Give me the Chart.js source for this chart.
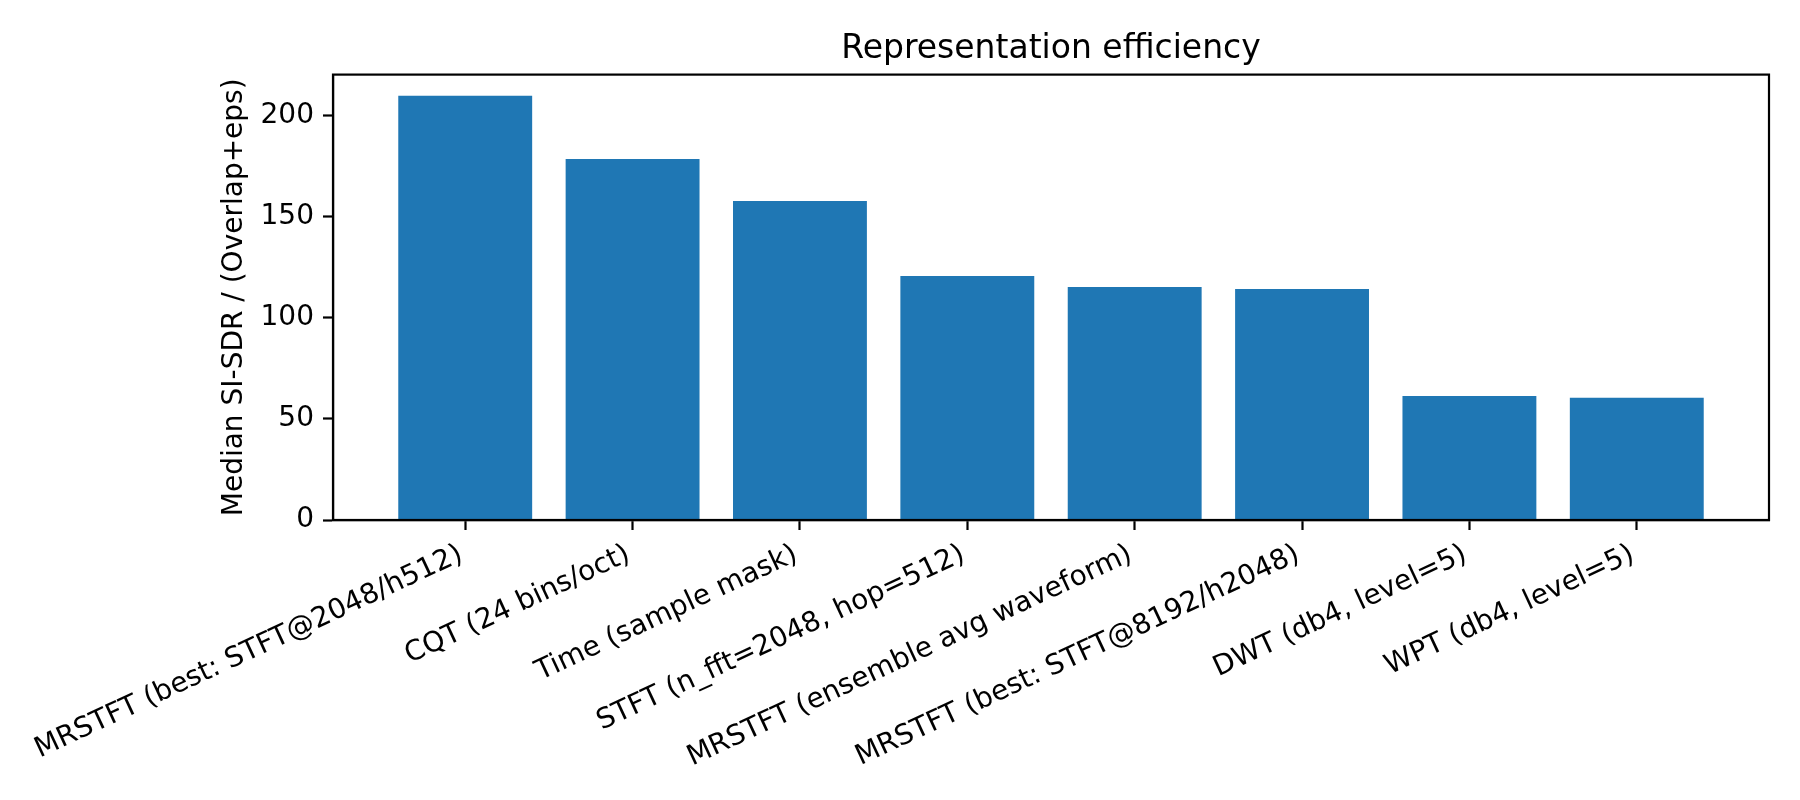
<!DOCTYPE html>
<html>
<head>
<meta charset="utf-8">
<script src="https://cdn.jsdelivr.net/npm/chart.js@4.4.1/dist/chart.umd.min.js"></script>
<style>
  body { margin: 0; background: #fff; }
</style>
</head>
<body>
<canvas id="chart" width="1800" height="800"></canvas>
<script>
const methods = [
  'MRSTFT (best: STFT@2048/h512)',
  'CQT (24 bins/oct)',
  'Time (sample mask)',
  'STFT (n_fft=2048, hop=512)',
  'MRSTFT (ensemble avg waveform)',
  'MRSTFT (best: STFT@8192/h2048)',
  'DWT (db4, level=5)',
  'WPT (db4, level=5)'
];
const efficiency = [209.6, 178.4, 157.6, 120.6, 115.2, 114.1, 61.3, 60.4];
const yTicks = [0, 50, 100, 150, 200];

const font = 'DejaVu Sans';

// matplotlib-like frame around the plot area
const framePlugin = {
  id: 'frame',
  afterDatasetsDraw(chart) {
    const { ctx, chartArea: a } = chart;
    ctx.save();
    ctx.strokeStyle = '#000';
    ctx.lineWidth = 2.2;
    ctx.strokeRect(a.left, a.top, a.right - a.left, a.bottom - a.top);
    ctx.restore();
  }
};

const points = efficiency.map((v, i) => ({ x: i, y: v }));

new Chart(document.getElementById('chart'), {
  type: 'bar',
  data: {
    datasets: [{
      label: 'efficiency',
      data: points,
      backgroundColor: '#1f77b4',
      borderWidth: 0,
      barPercentage: 0.8,
      categoryPercentage: 1.0
    }]
  },
  options: {
    responsive: false,
    animation: false,
    devicePixelRatio: 1,
    layout: { padding: { left: 0, right: 31, top: 0, bottom: 0 } },
    plugins: {
      legend: { display: false },
      tooltip: { enabled: false },
      title: {
        display: true,
        text: 'Representation efficiency',
        fullSize: false,
        color: '#000',
        font: { family: font, size: 33, weight: 'normal' },
        padding: { top: 30, bottom: 5 }
      }
    },
    scales: {
      x: {
        type: 'linear',
        offset: false,
        min: -0.79,
        max: methods.length - 1 + 0.79,
        afterBuildTicks(axis) {
          axis.ticks = methods.map((_, i) => ({ value: i }));
        },
        afterFit(scale) {
          scale.height = 280;
          scale.paddingLeft = 0;
          scale.paddingRight = 0;
        },
        ticks: {
          autoSkip: false,
          minRotation: 25,
          maxRotation: 25,
          padding: 8,
          labelOffset: -4,
          color: '#000',
          font: { family: font, size: 28 },
          callback: (v) => methods[v]
        },
        grid: {
          offset: false,
          drawOnChartArea: false,
          drawTicks: true,
          tickLength: 10,
          tickWidth: 2.2,
          tickColor: '#000'
        },
        border: { display: true, color: '#000', width: 2.2 }
      },
      y: {
        min: 0,
        max: 220.1,
        afterBuildTicks(axis) {
          axis.ticks = yTicks.map(v => ({ value: v }));
        },
        afterFit(scale) {
          scale.width = 333;
        },
        ticks: {
          padding: 9,
          color: '#000',
          font: { family: font, size: 28 }
        },
        grid: {
          drawOnChartArea: false,
          drawTicks: true,
          tickLength: 10,
          tickWidth: 2.2,
          tickColor: '#000'
        },
        border: { display: true, color: '#000', width: 2.2 },
        title: {
          display: true,
          text: 'Median SI-SDR / (Overlap+eps)',
          color: '#000',
          font: { family: font, size: 28 },
          padding: { top: 218, bottom: 0 }
        }
      }
    }
  },
  plugins: [framePlugin]
});
</script>
</body>
</html>
